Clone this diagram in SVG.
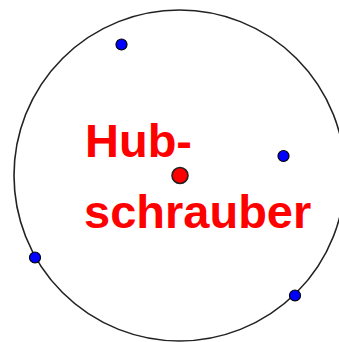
<svg xmlns="http://www.w3.org/2000/svg" width="339" height="342" viewBox="0 0 339 342">
<style>
.pt{fill:#0000ff;stroke:#000;stroke-width:1.2}
.lbl{font-family:"Liberation Sans",Arial,sans-serif;font-weight:bold;font-size:47px;fill:#ff0000}
</style>
<rect width="339" height="342" fill="#fff"/>
<g id="circle"><circle cx="179.5" cy="175.5" r="165.5" fill="none" stroke="#222" stroke-width="1.6"/></g>
<g id="center"><circle cx="180" cy="175.5" r="8" fill="#ff0000" stroke="#222" stroke-width="1.6"/></g>
<g id="p1"><circle class="pt" cx="121.5" cy="44.5" r="5.5"/></g>
<g id="p2"><circle class="pt" cx="283.5" cy="156" r="5.5"/></g>
<g id="p3"><circle class="pt" cx="35" cy="257.5" r="5.5"/></g>
<g id="p4"><circle class="pt" cx="295" cy="295.5" r="5.5"/></g>
<g id="label">
<text class="lbl" x="85" y="157">Hub-</text>
<text class="lbl" x="84" y="228">schrauber</text>
</g>
</svg>
